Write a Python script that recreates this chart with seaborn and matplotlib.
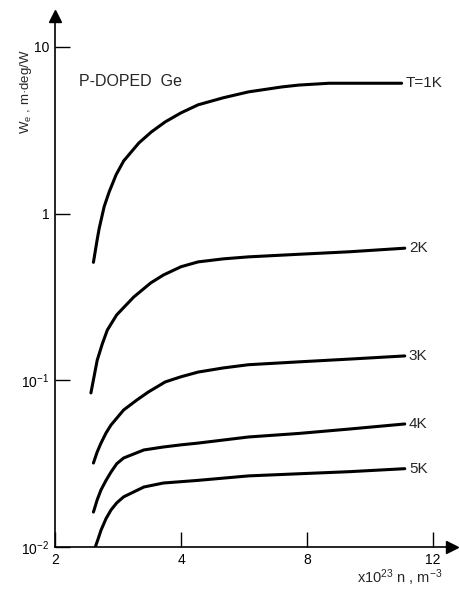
import numpy as np
import pandas as pd
import matplotlib
matplotlib.use('Agg')
import matplotlib.pyplot as plt
import seaborn as sns

# values (n in 1e23 m^-3, We in m.deg/W)
n_1K = [2.61, 2.67, 2.70, 2.78, 2.86, 2.97, 3.09, 3.33, 3.53, 3.75, 4.0, 4.54, 5.34, 6.14, 7.2, 7.74, 8.7, 11.0]
we_1K = [0.51, 0.70, 0.81, 1.10, 1.35, 1.71, 2.07, 2.65, 3.09, 3.55, 4.02, 4.49, 4.95, 5.37, 5.75, 5.9, 6.05, 6.05]

n_2K = [2.57, 2.67, 2.75, 2.83, 2.91, 2.98, 3.25, 3.52, 3.72, 4.0, 4.54, 5.34, 6.14, 7.74, 9.34, 11.1]
we_2K = [0.084, 0.132, 0.165, 0.20, 0.224, 0.247, 0.316, 0.384, 0.428, 0.48, 0.513, 0.535, 0.55, 0.57, 0.59, 0.62]

n_3K = [2.61, 2.67, 2.73, 2.81, 2.89, 3.09, 3.30, 3.48, 3.75, 4.0, 4.54, 5.34, 6.14, 7.74, 9.34, 11.1]
we_3K = [0.0319, 0.0372, 0.042, 0.0483, 0.054, 0.0664, 0.0762, 0.085, 0.0978, 0.105, 0.112, 0.1186, 0.124, 0.129, 0.134, 0.14]

n_4K = [2.61, 2.67, 2.73, 2.81, 2.89, 2.98, 3.09, 3.41, 3.72, 4.0, 4.54, 6.14, 7.74, 9.34, 11.1]
we_4K = [0.0162, 0.0192, 0.022, 0.0251, 0.0282, 0.0316, 0.0342, 0.0382, 0.0398, 0.041, 0.042, 0.0457, 0.048, 0.051, 0.0547]

n_5K = [2.64, 2.69, 2.73, 2.81, 2.89, 2.98, 3.09, 3.41, 3.72, 4.54, 6.14, 7.74, 9.34, 11.1]
we_5K = [0.010, 0.01135, 0.0126, 0.0148, 0.0167, 0.0184, 0.020, 0.0229, 0.0242, 0.0251, 0.0267, 0.0275, 0.0283, 0.0295]

curve_labels = ['T=1K', '2K', '3K', '4K', '5K']
x_ticks = [2, 4, 8, 12]
y_ticks = [0.01, 0.1, 1, 10]
y_tick_labels = ['10$^{-2}$', '10$^{-1}$', '1', '10']

frames = []
for lab, n, w in zip(curve_labels, [n_1K, n_2K, n_3K, n_4K, n_5K],
                     [we_1K, we_2K, we_3K, we_4K, we_5K]):
    frames.append(pd.DataFrame({'n': n, 'We': w, 'T': lab}))
df = pd.concat(frames, ignore_index=True)

sns.set_style('ticks')
plt.rcParams['font.family'] = ['Liberation Sans', 'DejaVu Sans']
plt.rcParams['mathtext.default'] = 'regular'


# the original axis has 2, 4, 8, 12 equally spaced
def fwd(x):
    x = np.asarray(x, dtype=float)
    return np.where(x < 4, (x - 2) / 2, np.where(x < 8, 1 + (x - 4) / 4, 2 + (x - 8) / 4))


def inv(p):
    p = np.asarray(p, dtype=float)
    return np.where(p < 1, 2 + 2 * p, np.where(p < 2, 4 + 4 * (p - 1), 8 + 4 * (p - 2)))


fig = plt.figure(figsize=(4.59, 5.89), dpi=100)
ax = fig.add_axes([0.1198, 0.0713, 0.865, 0.9015])

sns.lineplot(data=df, x='n', y='We', hue='T', units='T', estimator=None,
             palette=['black'] * 5, linewidth=2.2, legend=False, ax=ax)

ax.set_xscale('function', functions=(fwd, inv))
ax.set_yscale('log')
ax.set_xlim(2, 12.6)
ax.set_ylim(0.01, 10 ** 1.185)
ax.set_xlabel('')
ax.set_ylabel('')

ax.set_xticks(x_ticks)
ax.set_xticklabels([str(t) for t in x_ticks])
ax.set_yticks(y_ticks)
ax.set_yticklabels(y_tick_labels)
ax.minorticks_off()
ax.tick_params(direction='in', length=11, width=1.0, labelsize=10, pad=4, colors='black')

sns.despine(ax=ax)
for s in ['left', 'bottom']:
    ax.spines[s].set_linewidth(1.2)
    ax.spines[s].set_color('black')

# arrow heads on the axes
ax.plot(1, 0, '>k', markersize=8, transform=ax.transAxes, clip_on=False)
ax.plot(0, 1, '^k', markersize=8, transform=ax.transAxes, clip_on=False)

# curve labels at the ends of the curves
for lab in curve_labels:
    sub = df[df['T'] == lab]
    ax.annotate(lab, xy=(sub['n'].iloc[-1], sub['We'].iloc[-1]), xytext=(3, 0),
                textcoords='offset points', va='center', ha='left', fontsize=11)

ax.text(0.06, 0.876, 'P-DOPED  Ge', transform=ax.transAxes, fontsize=11.5, va='center')

fig.text(0.056, 0.844, 'W$_e$ , m·deg/W', rotation=90, ha='center', va='center', fontsize=9.5)
fig.text(0.965, 0.02, 'x10$^{23}$ n , m$^{-3}$', ha='right', va='center', fontsize=10.5)

fig.savefig('out.png', dpi=100, facecolor='white')
